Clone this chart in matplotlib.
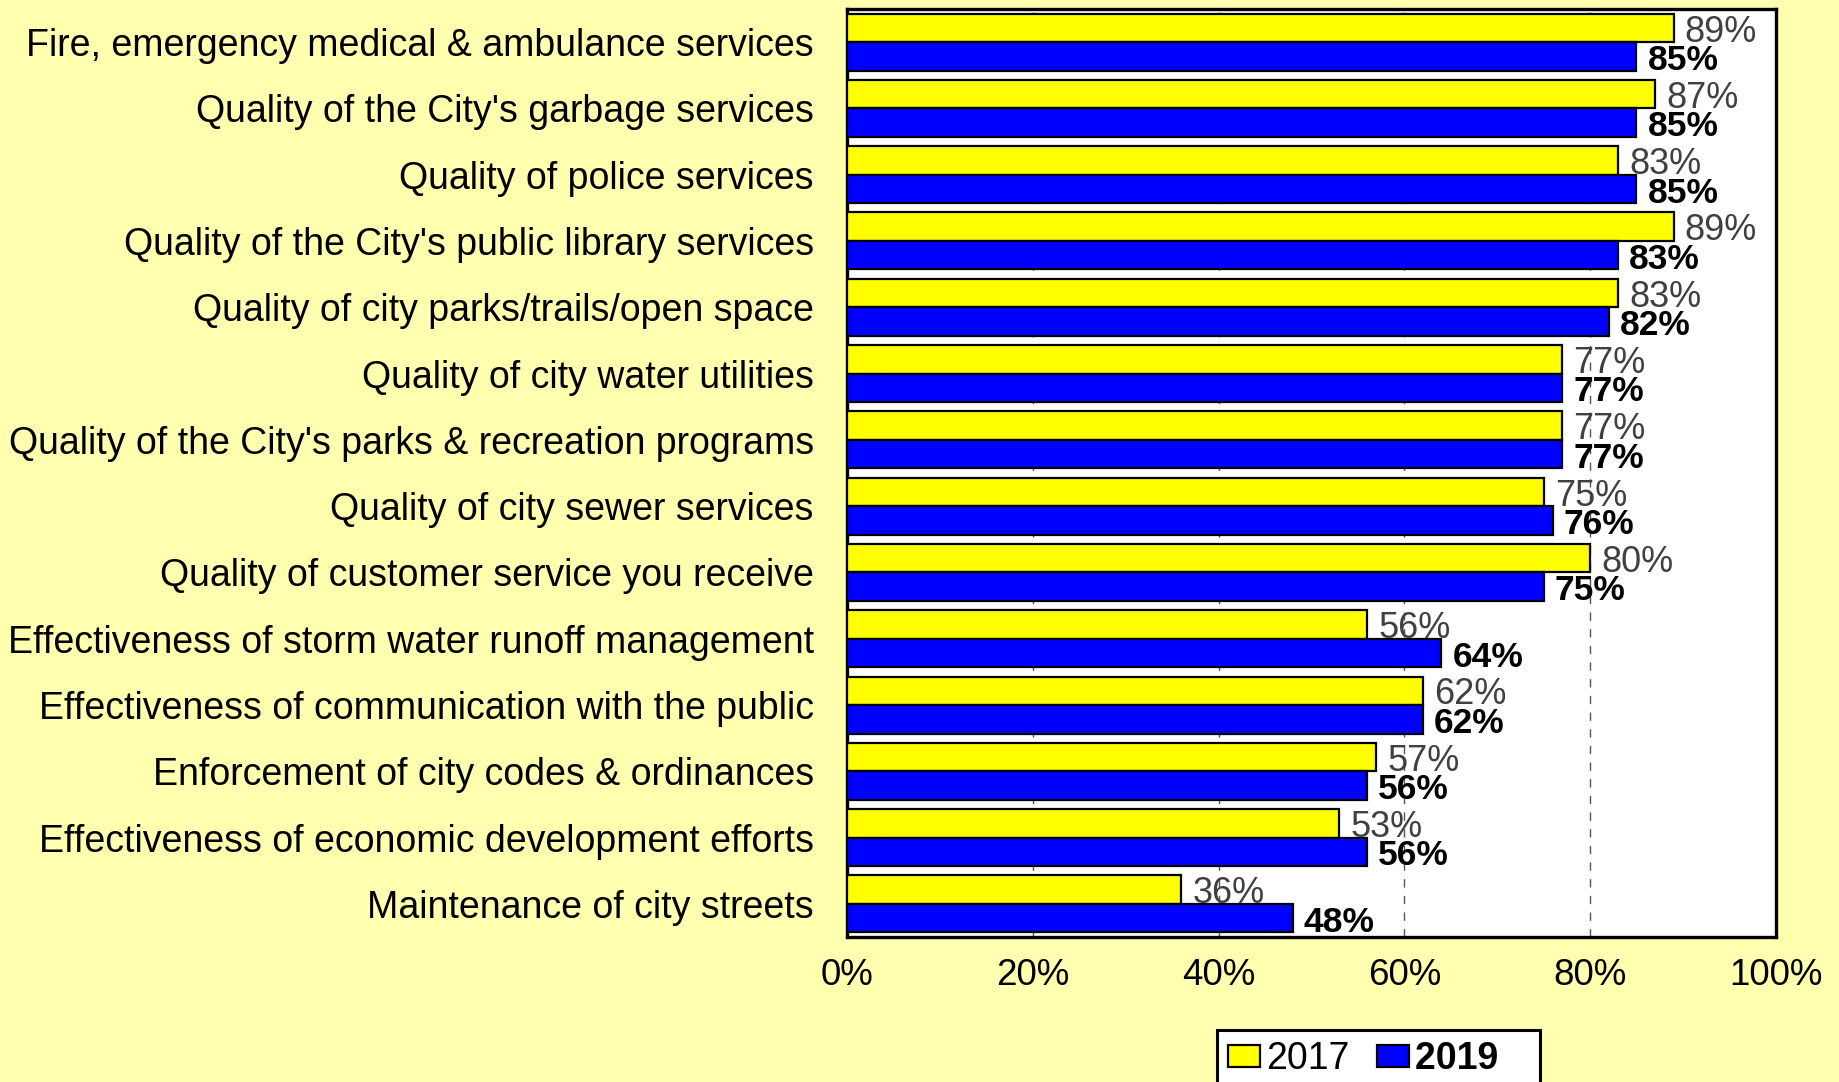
import matplotlib
matplotlib.use("Agg")
import matplotlib.pyplot as plt
import numpy as np

plt.rcParams['font.family'] = ['Liberation Sans', 'DejaVu Sans']

categories = [
    "Fire, emergency medical & ambulance services",
    "Quality of the City's garbage services",
    "Quality of police services",
    "Quality of the City's public library services",
    "Quality of city parks/trails/open space",
    "Quality of city water utilities",
    "Quality of the City's parks & recreation programs",
    "Quality of city sewer services",
    "Quality of customer service you receive",
    "Effectiveness of storm water runoff management",
    "Effectiveness of communication with the public",
    "Enforcement of city codes & ordinances",
    "Effectiveness of economic development efforts",
    "Maintenance of city streets",
]
vals_2017 = [89, 87, 83, 89, 83, 77, 77, 75, 80, 56, 62, 57, 53, 36]
vals_2019 = [85, 85, 85, 83, 82, 77, 77, 76, 75, 64, 62, 56, 56, 48]
xticks = [0, 20, 40, 60, 80, 100]

BG = '#FFFFB0'
YELLOW = '#FFFF00'
BLUE = '#0000FF'

fig = plt.figure(figsize=(18.39, 10.82), dpi=100, facecolor=BG)
ax = fig.add_axes([0.4606, 0.134, 0.505, 0.8577])
ax.set_facecolor('white')

n = len(categories)
y = np.arange(n)
h = 0.43

ax.barh(y - h / 2, vals_2017, height=h, color=YELLOW, edgecolor='black',
        linewidth=1.6, label='2017', zorder=3)
ax.barh(y + h / 2, vals_2019, height=h, color=BLUE, edgecolor='black',
        linewidth=1.6, label='2019   ', zorder=3)

for i in range(n):
    ax.annotate("%d%%" % vals_2017[i], (vals_2017[i], y[i] - h / 2),
                xytext=(8, -3), textcoords='offset points', va='center',
                ha='left', fontsize=26, color='#404040', zorder=4)
    ax.annotate("%d%%" % vals_2019[i], (vals_2019[i], y[i] + h / 2),
                xytext=(8, -3), textcoords='offset points', va='center',
                ha='left', fontsize=25.5, color='black', fontweight='bold',
                zorder=4)

ax.set_xlim(0, 100)
ax.set_ylim(n - 0.5, -0.5)
ax.set_xticks(xticks)
ax.set_xticklabels(["%d%%" % t for t in xticks])
ax.set_yticks(y)
ax.set_yticklabels(categories)
ax.tick_params(axis='x', length=0, pad=15, labelsize=26.5)
ax.tick_params(axis='y', length=0, pad=24, labelsize=27)
ax.grid(axis='x', color='#555555', linestyle=(0, (6, 6)), linewidth=1, zorder=1)
for s in ax.spines.values():
    s.set_linewidth(2.4)
    s.set_color('black')

leg = fig.legend(loc='upper left', bbox_to_anchor=(0.6618, 0.0481), ncol=2,
                 fontsize=27, frameon=True, fancybox=False, framealpha=1,
                 edgecolor='black', handlelength=0.85, handleheight=0.55,
                 handletextpad=0.15, columnspacing=0.75, borderpad=0.3,
                 borderaxespad=0)
leg.get_frame().set_linewidth(2.2)
leg.get_texts()[1].set_fontweight('bold')

fig.savefig("out.png", dpi=100, facecolor=BG)
